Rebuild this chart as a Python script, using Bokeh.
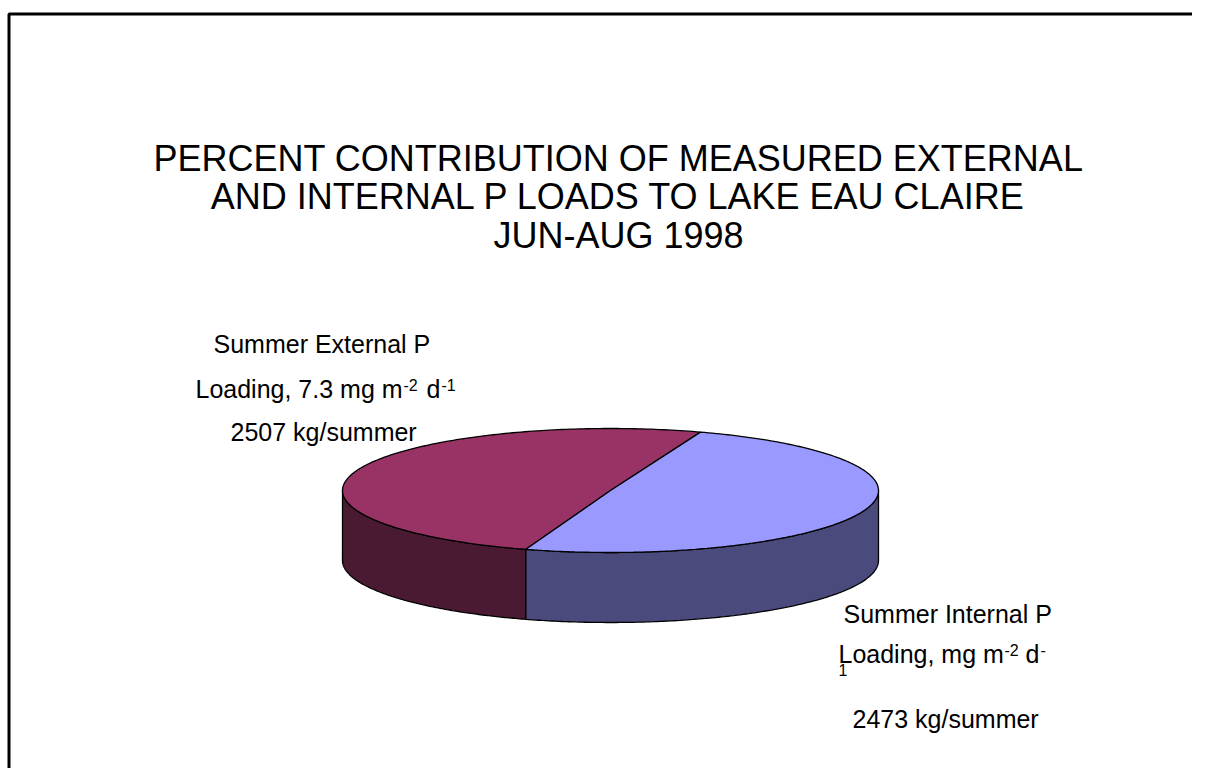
import numpy as np
from bokeh.plotting import figure
from bokeh.models import Range1d, ColumnDataSource
from bokeh.embed import file_html
from bokeh.resources import INLINE
from bokeh.core.properties import value

# ---------------- data ----------------
categories = ["Summer External P Loading", "Summer Internal P Loading"]
loads_kg = [2507, 2473]
top_colors = ["#993366", "#9999FF"]
side_colors = ["#4A1A33", "#4A4A7C"]

title_lines = [
    "PERCENT CONTRIBUTION OF MEASURED EXTERNAL",
    "AND INTERNAL P LOADS TO LAKE EAU CLAIRE",
    "JUN-AUG 1998",
]

FONT = value("Liberation Sans")

# ---------------- figure (data units == picture pixels) ----------------
W, H = 1192, 768
p = figure(width=W, height=H, output_backend="svg", toolbar_location=None,
           x_range=Range1d(0, W), y_range=Range1d(H, 0),
           x_axis_location=None, y_axis_location=None,
           min_border=0, min_border_left=0, min_border_right=0,
           min_border_top=0, min_border_bottom=0)
p.grid.visible = False
p.outline_line_color = None
p.background_fill_color = "white"
p.border_fill_color = "white"

# frame border (top and left visible)
p.line(x=[8.5, 8.5, 1300], y=[900, 13.5, 13.5], line_color="black", line_width=3)

# ---------------- 3D pie geometry ----------------
cx, cy, rx, ry, depth = 610.0, 490.0, 268.0, 62.0, 70.0
start_deg = 251.6  # first slice starts here, going clockwise

vals = np.array(loads_kg, dtype=float)
spans = 360.0 * vals / vals.sum()


def pt(t_deg, dy=0.0):
    t = np.radians(t_deg)
    return cx + rx * np.cos(t), cy - ry * np.sin(t) + dy


tops_x, tops_y, tops_c = [], [], []
sides_x, sides_y, sides_c = [], [], []
a = start_deg
for i, span in enumerate(spans):
    hi = a
    lo = a - span
    ts = np.linspace(hi, lo, 200)
    ax, ay = pt(ts)
    tops_x.append(list(np.concatenate([[cx], ax, [cx]])))
    tops_y.append(list(np.concatenate([[cy], ay, [cy]])))
    tops_c.append(top_colors[i])
    # visible side wall: parts of [lo, hi] inside the front half (180..360 deg)
    for k in (-720, -360, 0, 360, 720):
        s = max(lo, 180 + k)
        e = min(hi, 360 + k)
        if e - s > 0.01:
            tt = np.linspace(s, e, 150)
            ux, uy = pt(tt)
            bx, by = pt(tt[::-1], depth)
            sides_x.append(list(np.concatenate([ux, bx])))
            sides_y.append(list(np.concatenate([uy, by])))
            sides_c.append(side_colors[i])
    a = lo

p.patches(xs="xs", ys="ys", fill_color="c", line_color="black", line_width=1.3,
          source=ColumnDataSource(dict(xs=sides_x, ys=sides_y, c=sides_c)))
p.patches(xs="xs", ys="ys", fill_color="c", line_color="black", line_width=1.3,
          source=ColumnDataSource(dict(xs=tops_x, ys=tops_y, c=tops_c)))


# ---------------- text helper ----------------
def txt(x, baseline, s, size, align="left"):
    # compensate for renderer's baseline placement (~0.38 em lower)
    p.text(x=[x], y=[baseline - 0.38 * size], text=[s],
           text_font=FONT, text_font_size=f"{size}px", text_align=align,
           text_baseline="alphabetic", text_color="black")


# title
for line, b in zip(title_lines, [172, 210, 249]):
    txt(618, b, line, 36, align="center")

big, small = 25, 16
ext_total = f"{loads_kg[0]} kg/summer"
int_total = f"{loads_kg[1]} kg/summer"

# External label (upper left)
txt(213, 353, "Summer External  P", big)
txt(195, 398, "Loading, 7.3 mg m", big)
txt(403, 391, "-2", small)
txt(426, 398, "d", big)
txt(441, 391, "-1", small)
txt(230, 441, ext_total, big)

# Internal label (lower right)
txt(843, 623, "Summer Internal  P", big)
txt(838, 663, "Loading, mg m", big)
txt(1004, 656, "-2", small)
txt(1025, 663, "d", big)
txt(1040, 656, "-", small)
txt(838, 676, "1", small)
txt(852, 728, int_total, big)

open("out.html", "w").write(file_html(p, INLINE))
